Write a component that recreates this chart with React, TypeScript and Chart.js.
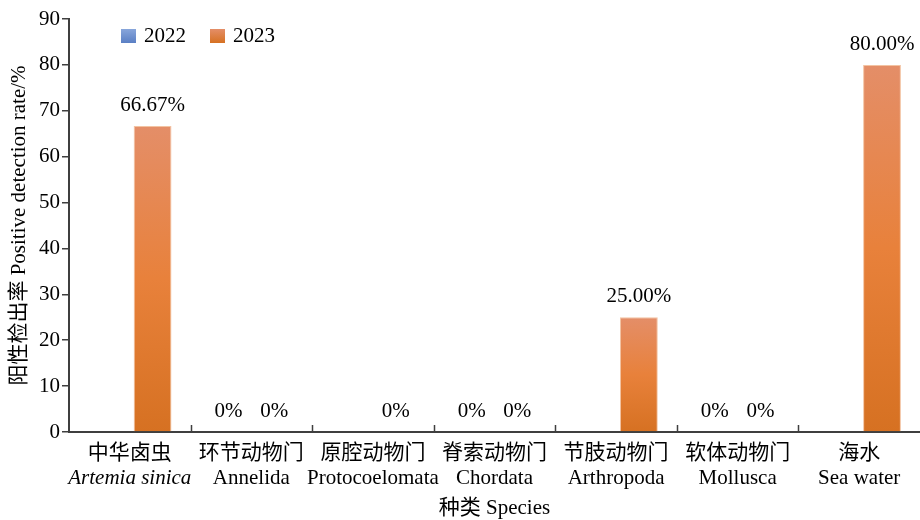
import React, { useEffect, useRef } from 'react';
import { Chart, registerables } from 'chart.js';

Chart.register(...registerables);

const categoriesZh = ['中华卤虫', '环节动物门', '原腔动物门', '脊索动物门', '节肢动物门', '软体动物门', '海水'];
const categoriesEn = ['Artemia sinica', 'Annelida', 'Protocoelomata', 'Chordata', 'Arthropoda', 'Mollusca', 'Sea water'];
const italicEn = [true, false, false, false, false, false, false];
const seriesNames = ['2022', '2023'];
const series2022: (number | null)[] = [null, 0, null, 0, null, 0, null];
const series2023: (number | null)[] = [66.67, 0, 0, 0, 25, 0, 80];
const yMin = 0;
const yMax = 90;
const yStep = 10;
const xTitle = '种类 Species';
const yTitle = '阳性检出率 Positive detection rate/%';

const FONT = "'Liberation Serif', 'Noto Sans CJK SC', serif";
const FS = 21;
const AXIS = '#3f3f3f';

const blueStops = ['#88a6db', '#6d90d0', '#5a7fc4'];
const orangeStops = ['#e48e68', '#e8813b', '#d67122'];

function gradientFor(stops: string[]) {
  return (c: any) => {
    const chart = c.chart;
    const v = c.raw;
    if (!chart.chartArea || v == null || !chart.scales || !chart.scales.y) return stops[1];
    const y = chart.scales.y;
    const top = y.getPixelForValue(v);
    const bottom = y.getPixelForValue(0);
    if (!isFinite(top) || !isFinite(bottom) || bottom - top < 1) return stops[1];
    const g = chart.ctx.createLinearGradient(0, top, 0, bottom);
    g.addColorStop(0, stops[0]);
    g.addColorStop(0.5, stops[1]);
    g.addColorStop(1, stops[2]);
    return g;
  };
}

function fmt(v: number) {
  return v === 0 ? '0%' : v.toFixed(2) + '%';
}

const decorPlugin = {
  id: 'decor',
  afterDatasetsDraw(chart: any) {
    const { ctx, chartArea, scales } = chart;
    const x = scales.x;
    ctx.save();
    // data labels
    ctx.fillStyle = '#000';
    ctx.font = `${FS}px ${FONT}`;
    ctx.textAlign = 'center';
    ctx.textBaseline = 'alphabetic';
    chart.data.datasets.forEach((ds: any, di: number) => {
      const meta = chart.getDatasetMeta(di);
      meta.data.forEach((el: any, i: number) => {
        const v = ds.data[i];
        if (v == null) return;
        ctx.fillText(fmt(v), el.x, el.y - 15);
      });
    });
    // x boundary ticks
    ctx.strokeStyle = AXIS;
    ctx.lineWidth = 1.5;
    for (let i = 1; i < categoriesZh.length; i++) {
      const px = Math.round((x.getPixelForValue(i - 1) + x.getPixelForValue(i)) / 2) + 0.5;
      ctx.beginPath();
      ctx.moveTo(px, chartArea.bottom);
      ctx.lineTo(px, chartArea.bottom - 7);
      ctx.stroke();
    }
    // x labels
    ctx.fillStyle = '#000';
    ctx.textBaseline = 'middle';
    for (let i = 0; i < categoriesZh.length; i++) {
      const px = x.getPixelForValue(i);
      ctx.font = `${FS}px ${FONT}`;
      ctx.fillText(categoriesZh[i], px, chartArea.bottom + 21);
      ctx.font = `${italicEn[i] ? 'italic ' : ''}${FS}px ${FONT}`;
      ctx.fillText(categoriesEn[i], px, chartArea.bottom + 46);
    }
    ctx.font = `${FS}px ${FONT}`;
    ctx.fillText(xTitle, (chartArea.left + chartArea.right) / 2, chartArea.bottom + 76);
    // legend
    const stopsList = [blueStops, orangeStops];
    let lx = chartArea.left + 52;
    const ly = chartArea.top + 10;
    seriesNames.forEach((name, k) => {
      const g = ctx.createLinearGradient(0, ly, 0, ly + 14);
      g.addColorStop(0, stopsList[k][0]);
      g.addColorStop(1, stopsList[k][2]);
      ctx.fillStyle = g;
      ctx.fillRect(lx, ly, 15, 14);
      ctx.fillStyle = '#000';
      ctx.textAlign = 'left';
      ctx.textBaseline = 'middle';
      ctx.font = `${FS}px ${FONT}`;
      ctx.fillText(name, lx + 23, ly + 7);
      lx += 89;
    });
    ctx.restore();
  },
};

export default function App() {
  const ref = useRef<HTMLCanvasElement>(null);
  useEffect(() => {
    if (!ref.current) return;
    const chart = new Chart(ref.current, {
      type: 'bar',
      data: {
        labels: categoriesZh,
        datasets: [
          {
            label: seriesNames[0],
            data: series2022,
            backgroundColor: gradientFor(blueStops),
            borderColor: '#b9c9ea',
            borderWidth: 1,
          },
          {
            label: seriesNames[1],
            data: series2023,
            backgroundColor: gradientFor(orangeStops),
            borderColor: '#f3c3a2',
            borderWidth: 1,
          },
        ] as any,
      },
      options: {
        responsive: false,
        animation: false,
        devicePixelRatio: 1,
        layout: { padding: { top: 19, right: 0, left: 0, bottom: 0 } },
        datasets: { bar: { categoryPercentage: 0.75, barPercentage: 0.83, skipNull: false } } as any,
        plugins: {
          legend: { display: false },
          tooltip: { enabled: false },
        },
        scales: {
          x: {
            grid: { display: false },
            ticks: { display: false },
            border: { display: true, color: AXIS, width: 2 },
            afterFit: (s: any) => {
              s.height = 88;
            },
          },
          y: {
            min: yMin,
            max: yMax,
            ticks: {
              stepSize: yStep,
              color: '#000',
              font: { family: FONT, size: FS },
              padding: 2,
            },
            grid: { drawOnChartArea: false, drawTicks: true, tickLength: 7, color: AXIS, lineWidth: 1.5 },
            border: { display: true, color: AXIS, width: 2 },
            title: {
              display: true,
              text: yTitle,
              color: '#000',
              font: { family: FONT, size: FS },
              padding: { top: 7, bottom: 0 },
            },
            afterFit: (s: any) => {
              s.width = 69;
            },
          },
        },
      },
      plugins: [decorPlugin],
    });
    return () => chart.destroy();
  }, []);
  return (
    <div style={{ position: 'fixed', left: 0, top: 0, width: 920, height: 520, background: '#fff' }}>
      <canvas ref={ref} width={920} height={520} style={{ width: 920, height: 520 }} />
    </div>
  );
}
